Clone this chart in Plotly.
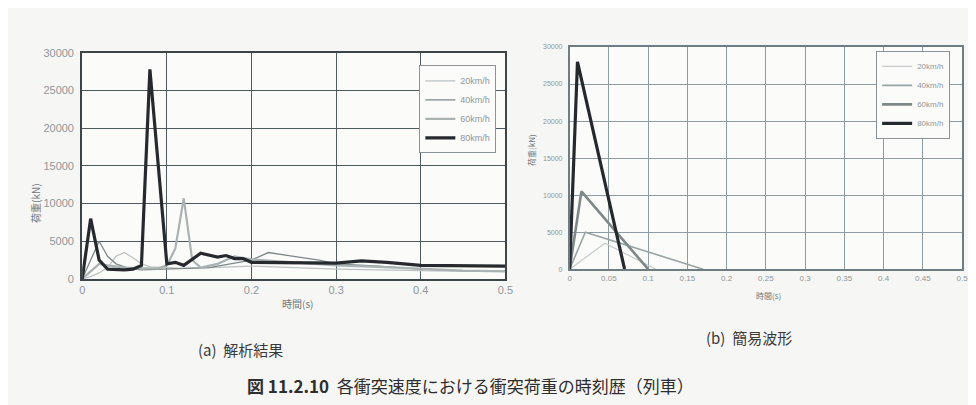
import plotly.graph_objects as go

W, H = 976, 405

# ---------- (a) analysis results ----------
a_t20 = [0, 0.01, 0.02, 0.03, 0.04, 0.05, 0.06, 0.07, 0.08, 0.10, 0.12, 0.15, 0.20, 0.25, 0.30, 0.35, 0.40, 0.45, 0.50]
a_f20 = [0, 300, 800, 1500, 3000, 3500, 2800, 2000, 1600, 1500, 1400, 1500, 1700, 1500, 1300, 1200, 1100, 1000, 1000]

a_t40 = [0, 0.01, 0.02, 0.03, 0.04, 0.05, 0.06, 0.07, 0.10, 0.15, 0.20, 0.22, 0.25, 0.28, 0.30, 0.35, 0.40, 0.45, 0.50]
a_f40 = [0, 2500, 5000, 3000, 2000, 1600, 1300, 1200, 1300, 1500, 2500, 3500, 3000, 2500, 2000, 1700, 1300, 1100, 1000]

a_t60 = [0, 0.01, 0.02, 0.03, 0.05, 0.07, 0.09, 0.10, 0.11, 0.12, 0.13, 0.14, 0.16, 0.18, 0.20, 0.25, 0.30, 0.35, 0.40, 0.45, 0.50]
a_f60 = [0, 1000, 2000, 1800, 1500, 1400, 1400, 1800, 4000, 10700, 2500, 1500, 2000, 3000, 2600, 2200, 1800, 1600, 1300, 1100, 1000]

a_t80 = [0, 0.01, 0.02, 0.03, 0.05, 0.06, 0.07, 0.08, 0.10, 0.11, 0.12, 0.14, 0.16, 0.17, 0.18, 0.19, 0.20, 0.25, 0.30, 0.33, 0.36, 0.40, 0.45, 0.50]
a_f80 = [0, 8000, 2500, 1300, 1200, 1300, 1800, 27800, 2000, 2200, 1800, 3400, 2900, 3100, 2700, 2700, 2200, 2200, 2100, 2400, 2200, 1800, 1700, 1700]

# ---------- (b) simplified waveforms ----------
b_t20 = [0, 0.045, 0.11]
b_f20 = [0, 3500, 0]
b_t40 = [0, 0.02, 0.17]
b_f40 = [0, 5000, 0]
b_t60 = [0, 0.015, 0.10]
b_f60 = [0, 10500, 0]
b_t80 = [0, 0.01, 0.07]
b_f80 = [0, 28000, 0]

names = ["20km/h", "40km/h", "60km/h", "80km/h"]
a_x_ticks = [0, 0.1, 0.2, 0.3, 0.4, 0.5]
a_x_labels = ["0", "0.1", "0.2", "0.3", "0.4", "0.5"]
b_x_ticks = [0, 0.05, 0.1, 0.15, 0.2, 0.25, 0.3, 0.35, 0.4, 0.45, 0.5]
b_x_labels = ["0", "0.05", "0.1", "0.15", "0.2", "0.25", "0.3", "0.35", "0.4", "0.45", "0.5"]
y_ticks = [0, 5000, 10000, 15000, 20000, 25000, 30000]
y_labels = ["0", "5000", "10000", "15000", "20000", "25000", "30000"]

a_series = [(a_t20, a_f20), (a_t40, a_f40), (a_t60, a_f60), (a_t80, a_f80)]
b_series = [(b_t20, b_f20), (b_t40, b_f40), (b_t60, b_f60), (b_t80, b_f80)]

a_styles = [("#bcc2c2", 1.2), ("#7d8888", 1.3), ("#aab2b2", 2.2), ("#262a2e", 3.2)]
b_styles = [("#c4cccc", 1.2), ("#98a4a4", 1.6), ("#7e8888", 2.6), ("#25292d", 3.2)]

fig = go.Figure()
for (t, f), n, (c, w) in zip(a_series, names, a_styles):
    fig.add_trace(go.Scatter(x=t, y=f, mode="lines", name=n, line=dict(color=c, width=w),
                             xaxis="x", yaxis="y", legend="legend"))
for (t, f), n, (c, w) in zip(b_series, names, b_styles):
    fig.add_trace(go.Scatter(x=t, y=f, mode="lines", name=n, line=dict(color=c, width=w),
                             xaxis="x2", yaxis="y2", legend="legend2"))

def px(x):
    return x / W

def py(y):
    return 1 - y / H

grid_a = "#4f5a5e"
grid_b = "#8d9ca2"
tick_col = "#8f979b"

fig.update_layout(
    width=W, height=H,
    margin=dict(l=0, r=0, t=0, b=0),
    paper_bgcolor="#f6f6f4",
    plot_bgcolor="#fbfbfa",
    font=dict(family="Liberation Sans, Arial, sans-serif", color=tick_col),
    xaxis=dict(domain=[px(72), px(500)], range=[0, 0.5], tickvals=a_x_ticks, ticktext=a_x_labels,
               showgrid=True, gridcolor=grid_a, gridwidth=1.3,
               showline=True, linecolor="#3d4549", linewidth=2, mirror=True,
               zeroline=False, ticks="", tickfont=dict(size=11, color=tick_col),
               anchor="y"),
    yaxis=dict(domain=[py(273), py(40)], range=[0, 30000], tickvals=y_ticks, ticktext=y_labels,
               showgrid=True, gridcolor=grid_a, gridwidth=1.3,
               showline=True, linecolor="#3d4549", linewidth=2, mirror=True,
               zeroline=False, ticks="", tickfont=dict(size=11, color=tick_col),
               anchor="x", ticklabelstandoff=4),
    xaxis2=dict(domain=[px(565), px(962)], range=[0, 0.5], tickvals=b_x_ticks, ticktext=b_x_labels,
                showgrid=True, gridcolor=grid_b, gridwidth=1.2,
                showline=True, linecolor="#6f7c82", linewidth=1.5, mirror=True,
                zeroline=False, ticks="", tickfont=dict(size=8, color=tick_col),
                anchor="y2"),
    yaxis2=dict(domain=[py(263), py(34)], range=[0, 30000], tickvals=y_ticks, ticktext=y_labels,
                showgrid=True, gridcolor=grid_b, gridwidth=1.2,
                showline=True, linecolor="#6f7c82", linewidth=1.5, mirror=True,
                zeroline=False, ticks="", tickfont=dict(size=7, color=tick_col),
                anchor="x2", ticklabelstandoff=4),
    legend=dict(x=px(413), y=py(53), xanchor="left", yanchor="top",
                bgcolor="#fbfbfa", bordercolor="#8a9498", borderwidth=1,
                font=dict(size=9, color=tick_col), tracegroupgap=0,
                itemwidth=30),
    legend2=dict(x=px(875), y=py(38), xanchor="left", yanchor="top",
                 bgcolor="#fbfbfa", bordercolor="#8a9498", borderwidth=1,
                 font=dict(size=8, color=tick_col), tracegroupgap=0,
                 itemwidth=30),
    showlegend=True,
)

cjk = "Noto Sans CJK JP"
annotations = [
    dict(text="荷重(kN)", x=px(25), y=py(195), textangle=-90, font=dict(family=cjk, size=10, color="#6f787c")),
    dict(text="時間(s)", x=px(290), y=py(298), font=dict(family=cjk, size=10, color="#6f787c")),
    dict(text="荷重(kN)", x=px(527), y=py(140), textangle=-90, font=dict(family=cjk, size=8, color="#6f787c")),
    dict(text="時間(s)", x=px(766), y=py(290), font=dict(family=cjk, size=8, color="#6f787c")),
    dict(text="(a)  解析結果", x=px(232), y=py(346), font=dict(family=cjk, size=15, color="#3a3a3a")),
    dict(text="(b)  簡易波形", x=px(746), y=py(333), font=dict(family=cjk, size=15, color="#3a3a3a")),
    dict(text="<b>図 11.2.10</b>  各衝突速度における衝突荷重の時刻歴（列車）", x=px(465), y=py(383),
         font=dict(family=cjk, size=17, color="#2e2e2e")),
]
for a in annotations:
    a.update(xref="paper", yref="paper", showarrow=False, xanchor="center", yanchor="middle")
fig.update_layout(annotations=annotations)

fig.write_html("out.html")
